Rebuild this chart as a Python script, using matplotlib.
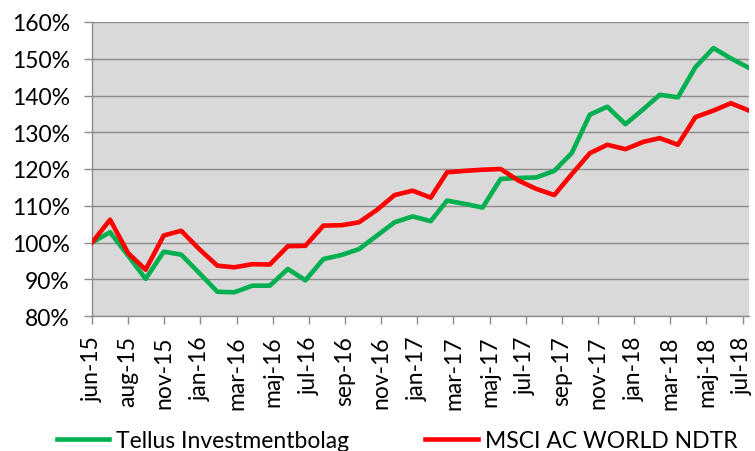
import matplotlib
matplotlib.use("Agg")
import matplotlib.pyplot as plt
import matplotlib.ticker as mticker
import pandas as pd
import numpy as np

plt.rcParams['font.family'] = ['Lato', 'DejaVu Sans']

dates = pd.date_range('2015-06-30', periods=38, freq='ME')
tellus = [100.0, 102.8, 96.4, 90.1, 97.5, 96.7, 91.7, 86.6, 86.45, 88.25, 88.25, 92.8,
          89.7, 95.5, 96.6, 98.2, 101.9, 105.5, 107.1, 105.8, 111.4, 110.5, 109.5, 117.3,
          117.55, 117.7, 119.5, 124.35, 134.8, 136.95, 132.2, 136.3, 140.2, 139.5, 147.7,
          152.9, 150.1, 147.5]
msci = [100.0, 106.2, 97.1, 92.6, 101.9, 103.2, 98.2, 93.7, 93.25, 94.1, 94.0, 99.0,
        99.1, 104.6, 104.7, 105.5, 108.9, 112.9, 114.1, 112.2, 119.1, 119.5, 119.8, 120.0,
        116.9, 114.6, 112.9, 118.6, 124.3, 126.6, 125.4, 127.4, 128.4, 126.6, 134.1,
        135.9, 137.9, 135.9]
tick_labels = ['jun-15', 'aug-15', 'nov-15', 'jan-16', 'mar-16', 'maj-16', 'jul-16',
               'sep-16', 'nov-16', 'jan-17', 'mar-17', 'maj-17', 'jul-17', 'sep-17',
               'nov-17', 'jan-18', 'mar-18', 'maj-18', 'jul-18']
series_names = ['Tellus Investmentbolag', 'MSCI AC WORLD NDTR']

fig = plt.figure(figsize=(7.55, 4.52), dpi=100)
ax = fig.add_axes([92/755, 1-317/452, (749-92)/755, (317-23)/452])
ax.set_facecolor('#D9D9D9')

ax.plot(dates, np.array(tellus), color='#00B050', lw=3.3, label=series_names[0], zorder=3)
ax.plot(dates, np.array(msci), color='#FF0000', lw=3.3, label=series_names[1], zorder=3)

ax.set_ylim(80, 160)
ax.set_yticks(np.arange(80, 161, 10))
ax.yaxis.set_major_formatter(mticker.FuncFormatter(lambda v, p: f"{v:.0f}%"))
ax.set_xlim(dates[0], dates[-1])
tick_pos = [dates[0] + pd.Timedelta(days=62*k) for k in range(len(tick_labels))]
ax.set_xticks(tick_pos)
ax.set_xticklabels(tick_labels, rotation=90)

ax.grid(axis='y', color='#8C8C8C', lw=1.0, zorder=1)
ax.set_axisbelow(True)
for s in ['top', 'right']:
    ax.spines[s].set_visible(False)
for s in ['left', 'bottom']:
    ax.spines[s].set_color('#8C8C8C')
    ax.spines[s].set_linewidth(1.0)
ax.tick_params(axis='both', colors='#8C8C8C', labelcolor='black', labelsize=16.5,
               length=6, width=1.0, direction='out')
ax.tick_params(axis='y', pad=10)
ax.tick_params(axis='x', pad=8)

leg = fig.legend(loc='center', bbox_to_anchor=(397/755, 1-442/452), ncol=2, frameon=False,
                 fontsize=16.5, handlelength=2.3, columnspacing=3.3, handletextpad=0.3)

fig.savefig('out.png', dpi=100)
